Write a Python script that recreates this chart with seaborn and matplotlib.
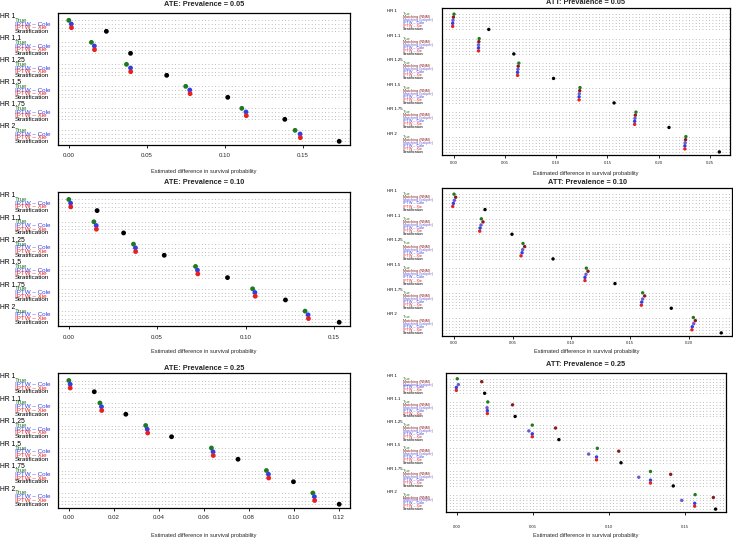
import matplotlib
matplotlib.use("Agg")
import matplotlib.pyplot as plt
import matplotlib.transforms as mtransforms
import pandas as pd
import seaborn as sns

# group labels (top to bottom)
hr_labels = ["HR 1", "HR 1.1", "HR 1.25", "HR 1.5", "HR 1.75", "HR 2"]

ate_methods = ["True", "IPTW \u2013 Cole", "IPTW \u2013 Xie", "Stratification"]
att_methods = ["True", "Matching (NNM)", "Matching (caliper)",
               "IPTW \u2013 Cole", "IPTW \u2013 Xie", "Stratification"]

method_colors = {
    "True": "#1f7a1f",
    "Matching (NNM)": "#8b1a1a",
    "Matching (caliper)": "#6a5acd",
    "IPTW \u2013 Cole": "#2f3fe8",
    "IPTW \u2013 Xie": "#e82020",
    "Stratification": "black",
}

# ATE, prevalence 0.05
ate_05_true = [0.000, 0.0145, 0.0370, 0.0750, 0.1110, 0.1452]
ate_05_cole = [0.0016, 0.0164, 0.0396, 0.0776, 0.1137, 0.1484]
ate_05_xie = [0.0017, 0.0165, 0.0397, 0.0778, 0.1139, 0.1486]
ate_05_strat = [0.0241, 0.0396, 0.0628, 0.1020, 0.1386, 0.1735]

# ATE, prevalence 0.10
ate_10_true = [0.000, 0.0142, 0.0366, 0.0717, 0.1040, 0.1337]
ate_10_cole = [0.0010, 0.0155, 0.0377, 0.0728, 0.1053, 0.1354]
ate_10_xie = [0.0011, 0.0156, 0.0378, 0.0730, 0.1055, 0.1356]
ate_10_strat = [0.0160, 0.0310, 0.0540, 0.0898, 0.1226, 0.1530]

# ATE, prevalence 0.25
ate_25_true = [0.000, 0.0138, 0.0341, 0.0633, 0.0877, 0.1083]
ate_25_cole = [0.0006, 0.0145, 0.0348, 0.0640, 0.0886, 0.1090]
ate_25_xie = [0.0006, 0.0146, 0.0350, 0.0641, 0.0887, 0.1091]
ate_25_strat = [0.0113, 0.0253, 0.0456, 0.0751, 0.0997, 0.1200]

# ATT, prevalence 0.05
att_05_true = [0.000, 0.0246, 0.0634, 0.1232, 0.1779, 0.2267]
att_05_nnm = [-0.0006, 0.0243, 0.0628, 0.1229, 0.1773, 0.2264]
att_05_cal = [-0.0010, 0.0240, 0.0625, 0.1225, 0.1769, 0.2260]
att_05_cole = [-0.0013, 0.0240, 0.0621, 0.1223, 0.1766, 0.2257]
att_05_xie = [-0.0013, 0.0240, 0.0621, 0.1223, 0.1766, 0.2257]
att_05_strat = [0.0340, 0.0585, 0.0973, 0.1565, 0.2102, 0.2594]

# ATT, prevalence 0.10
att_10_true = [0.000, 0.0233, 0.0588, 0.1128, 0.1608, 0.2040]
att_10_nnm = [0.0014, 0.0247, 0.0602, 0.1142, 0.1625, 0.2057]
att_10_cal = [0.0003, 0.0230, 0.0585, 0.1125, 0.1608, 0.2043]
att_10_cole = [-0.0006, 0.0222, 0.0580, 0.1116, 0.1600, 0.2031]
att_10_xie = [-0.0011, 0.0219, 0.0571, 0.1116, 0.1597, 0.2028]
att_10_strat = [0.0264, 0.0494, 0.0844, 0.1372, 0.1852, 0.2278]

# ATT, prevalence 0.25
att_25_true = [0.000, 0.0201, 0.0494, 0.0922, 0.1272, 0.1566]
att_25_nnm = [0.0161, 0.0364, 0.0647, 0.1063, 0.1405, 0.1686]
att_25_cal = [0.0007, 0.0196, 0.0471, 0.0865, 0.1195, 0.1478]
att_25_cole = [-0.0006, 0.0198, 0.0494, 0.0917, 0.1272, 0.1563]
att_25_xie = [-0.0006, 0.0198, 0.0494, 0.0917, 0.1272, 0.1563]
att_25_strat = [0.0180, 0.0381, 0.0669, 0.1078, 0.1422, 0.1701]

ticks_ate_05 = [0.00, 0.05, 0.10, 0.15]
ticks_ate_10 = [0.00, 0.05, 0.10, 0.15]
ticks_ate_25 = [0.00, 0.02, 0.04, 0.06, 0.08, 0.10, 0.12]
ticks_att_05 = [0.00, 0.05, 0.10, 0.15, 0.20, 0.25]
ticks_att_10 = [0.00, 0.05, 0.10, 0.15, 0.20]
ticks_att_25 = [0.00, 0.05, 0.10, 0.15]

sns.set_style("white")
plt.rcParams['font.family'] = ['Liberation Sans', 'DejaVu Sans']

W, H = 733, 539
fig = plt.figure(figsize=(W / 100, H / 100), dpi=100)


def draw_panel(series, methods, ticks, title, box, title_y, xlab_y, pad,
               lab_x, grp_x, lab_fs, tick_fs, dot_s):
    left, right, top, bottom = box
    ax = fig.add_axes([left / W, 1 - bottom / H, (right - left) / W, (bottom - top) / H])
    k = len(methods)
    rows = []
    for g, hr in enumerate(hr_labels):
        for m, meth in enumerate(methods):
            rows.append({"hr": hr, "method": meth, "value": series[m][g],
                         "row": (len(hr_labels) - 1 - g) * (k + 2) + (k - m)})
    df = pd.DataFrame(rows)

    lo, hi = df["value"].min(), df["value"].max()
    ext = 0.04 * (hi - lo)
    ax.set_xlim(lo - ext, hi + ext)
    ax.set_ylim(0, len(hr_labels) * (k + 2))

    for r in df["row"]:
        ax.axhline(r, color="#a8a8a8", lw=0.6, ls=(0, (1, 3)), zorder=1)

    sns.scatterplot(data=df, x="value", y="row", hue="method", palette=method_colors,
                    hue_order=methods, s=dot_s, linewidth=0, legend=False, ax=ax, zorder=3)

    # row and group labels in the left margin
    trans = mtransforms.blended_transform_factory(fig.transFigure, ax.transData)
    for _, rw in df.iterrows():
        ax.text(lab_x / W, rw["row"], rw["method"], transform=trans, ha="left", va="center",
                fontsize=lab_fs, color=method_colors[rw["method"]], clip_on=False)
    for g, hr in enumerate(hr_labels):
        ax.text(grp_x / W, (len(hr_labels) - 1 - g) * (k + 2) + k + 1, hr, transform=trans,
                ha="left", va="center", fontsize=lab_fs + 0.4, color="black", clip_on=False)

    ax.set_xticks(ticks)
    ax.set_xticklabels([f"{t:.2f}" for t in ticks])
    ax.set_yticks([])
    ax.tick_params(axis="x", bottom=True, length=2.5, width=0.6, pad=pad,
                   labelsize=tick_fs, color="black")
    for sp in ax.spines.values():
        sp.set_visible(True)
        sp.set_color("black")
        sp.set_linewidth(0.9)

    hpx = bottom - top
    ax.set_title(title, fontsize=5.3, fontweight="bold", y=1 + (top - title_y) / hpx,
                 va="center", pad=0)
    ax.set_xlabel("Estimated difference in survival probability", fontsize=4.1)
    ax.xaxis.set_label_coords(0.5, -(xlab_y - bottom) / hpx)
    ax.xaxis.label.set_va("center")
    ax.set_ylabel("")
    return ax


draw_panel([ate_05_true, ate_05_cole, ate_05_xie, ate_05_strat], ate_methods, ticks_ate_05,
           "ATE: Prevalence = 0.05", (58, 350, 13, 145), 5, 172, 3.3, 15, 0, 4.5, 4.4, 12)
draw_panel([ate_10_true, ate_10_cole, ate_10_xie, ate_10_strat], ate_methods, ticks_ate_10,
           "ATE: Prevalence = 0.10", (58, 350, 192, 326), 183, 352, 4.0, 15, 0, 4.5, 4.4, 12)
draw_panel([ate_25_true, ate_25_cole, ate_25_xie, ate_25_strat], ate_methods, ticks_ate_25,
           "ATE: Prevalence = 0.25", (58, 350, 373, 508), 368, 535, 2.5, 15, 0, 4.5, 4.4, 12)

draw_panel([att_05_true, att_05_nnm, att_05_cal, att_05_cole, att_05_xie, att_05_strat],
           att_methods, ticks_att_05, "ATT: Prevalence = 0.05", (442, 730, 8, 155),
           3, 173, 1.8, 403, 387, 2.7, 3.1, 6)
draw_panel([att_10_true, att_10_nnm, att_10_cal, att_10_cole, att_10_xie, att_10_strat],
           att_methods, ticks_att_10, "ATT: Prevalence = 0.10", (442, 732, 188, 336),
           183, 352, 0.8, 403, 387, 2.7, 3.1, 6)
draw_panel([att_25_true, att_25_nnm, att_25_cal, att_25_cole, att_25_xie, att_25_strat],
           att_methods, ticks_att_25, "ATT: Prevalence = 0.25", (446, 726, 373, 512),
           365, 536, 7.0, 403, 387, 2.7, 3.1, 6)

fig.savefig("out.png", dpi=100)
